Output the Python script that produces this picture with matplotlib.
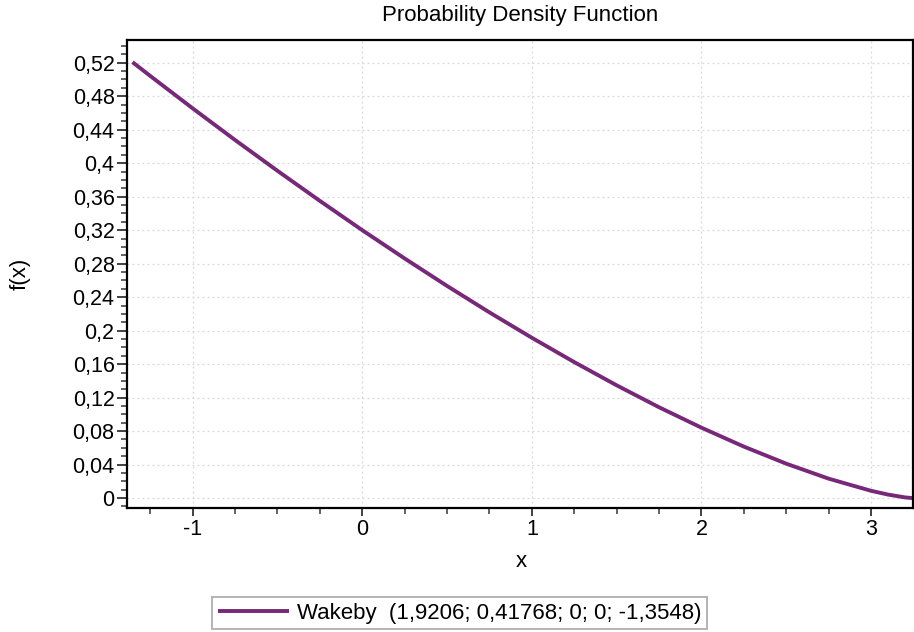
#!/usr/bin/env python3

"""
Probability Density Function - Wakeby fit
Output: out.png
"""

import matplotlib.pyplot as plt
from matplotlib.ticker import MultipleLocator, FuncFormatter

# ============================================================
# Data
# ============================================================

x_values = [-1.3548, -1.25, -1.0, -0.75, -0.5, -0.25, 0.0, 0.25, 0.5,
            0.75, 1.0, 1.25, 1.5, 1.75, 2.0, 2.25, 2.5, 2.75, 3.0,
            3.1, 3.2, 3.245]
pdf_values = [0.5207, 0.5042, 0.4655, 0.4277, 0.3909, 0.3550, 0.3200,
              0.2862, 0.2534, 0.2218, 0.1915, 0.1624, 0.1347, 0.1085,
              0.0841, 0.0615, 0.0411, 0.0232, 0.0087, 0.0042, 0.0008,
              0.0]

series_label = "Wakeby  (1,9206; 0,41768; 0; 0; -1,3548)"
title_text = "Probability Density Function"

x_limits = (-1.387, 3.248)
y_limits = (-0.012, 0.547)

LINE_COLOR = "#782878"
TICK_SIZE = 15.5
TEXT_SIZE = 16


# ============================================================
# Helpers
# ============================================================

def comma_format(value, pos):
    text = f"{value:.2f}".rstrip("0").rstrip(".")
    if text == "-0":
        text = "0"
    return text.replace(".", ",")


# ============================================================
# Plot
# ============================================================

def main():

    plt.rcParams["font.family"] = ["Liberation Sans", "DejaVu Sans"]

    fig = plt.figure(figsize=(9.14, 6.32), dpi=100)
    ax = fig.add_axes([0.139, 0.196, 0.860, 0.7405])

    ax.plot(x_values, pdf_values, color=LINE_COLOR, linewidth=2.8,
            label=series_label, solid_capstyle="butt")

    ax.set_xlim(*x_limits)
    ax.set_ylim(*y_limits)

    ax.xaxis.set_major_locator(MultipleLocator(1))
    ax.xaxis.set_minor_locator(MultipleLocator(0.25))
    ax.yaxis.set_major_locator(MultipleLocator(0.04))
    ax.yaxis.set_minor_locator(MultipleLocator(0.01))
    ax.xaxis.set_major_formatter(FuncFormatter(comma_format))
    ax.yaxis.set_major_formatter(FuncFormatter(comma_format))

    ax.tick_params(axis="both", which="major", direction="out",
                   width=1.3, labelsize=TICK_SIZE, color="#333333", pad=2)
    ax.tick_params(axis="x", which="major", length=6)
    ax.tick_params(axis="y", which="major", length=7)
    ax.tick_params(axis="both", which="minor", direction="out",
                   length=4, width=1.3, color="#555555")

    ax.grid(True, which="major", linestyle=(0, (1.5, 2.5)),
            color="#d8d8d8", linewidth=0.9)

    for side in ["left", "bottom", "top", "right"]:
        ax.spines[side].set_linewidth(1.6)
        ax.spines[side].set_color("black")

    fig.text(520 / 914, 1 - 15.5 / 632, title_text, fontsize=TEXT_SIZE,
             ha="center", va="center")

    ax.set_xlabel("x", fontsize=TEXT_SIZE)
    ax.xaxis.set_label_coords(0.501, -0.115)
    ax.xaxis.label.set_va("center")

    ax.set_ylabel("f(x)", fontsize=TEXT_SIZE)
    ax.yaxis.set_label_coords(-0.136, 0.5)
    ax.yaxis.label.set_va("center")

    legend = fig.legend(loc="center", bbox_to_anchor=(0.503, 0.030),
                        fontsize=TEXT_SIZE, frameon=True, fancybox=False,
                        handlelength=3.2, handletextpad=0.35,
                        borderpad=0.25, borderaxespad=0)
    legend.get_frame().set_edgecolor("#a0a0a0")
    legend.get_frame().set_linewidth(1.4)

    fig.savefig("out.png", dpi=100)
    plt.close(fig)


if __name__ == "__main__":
    main()
